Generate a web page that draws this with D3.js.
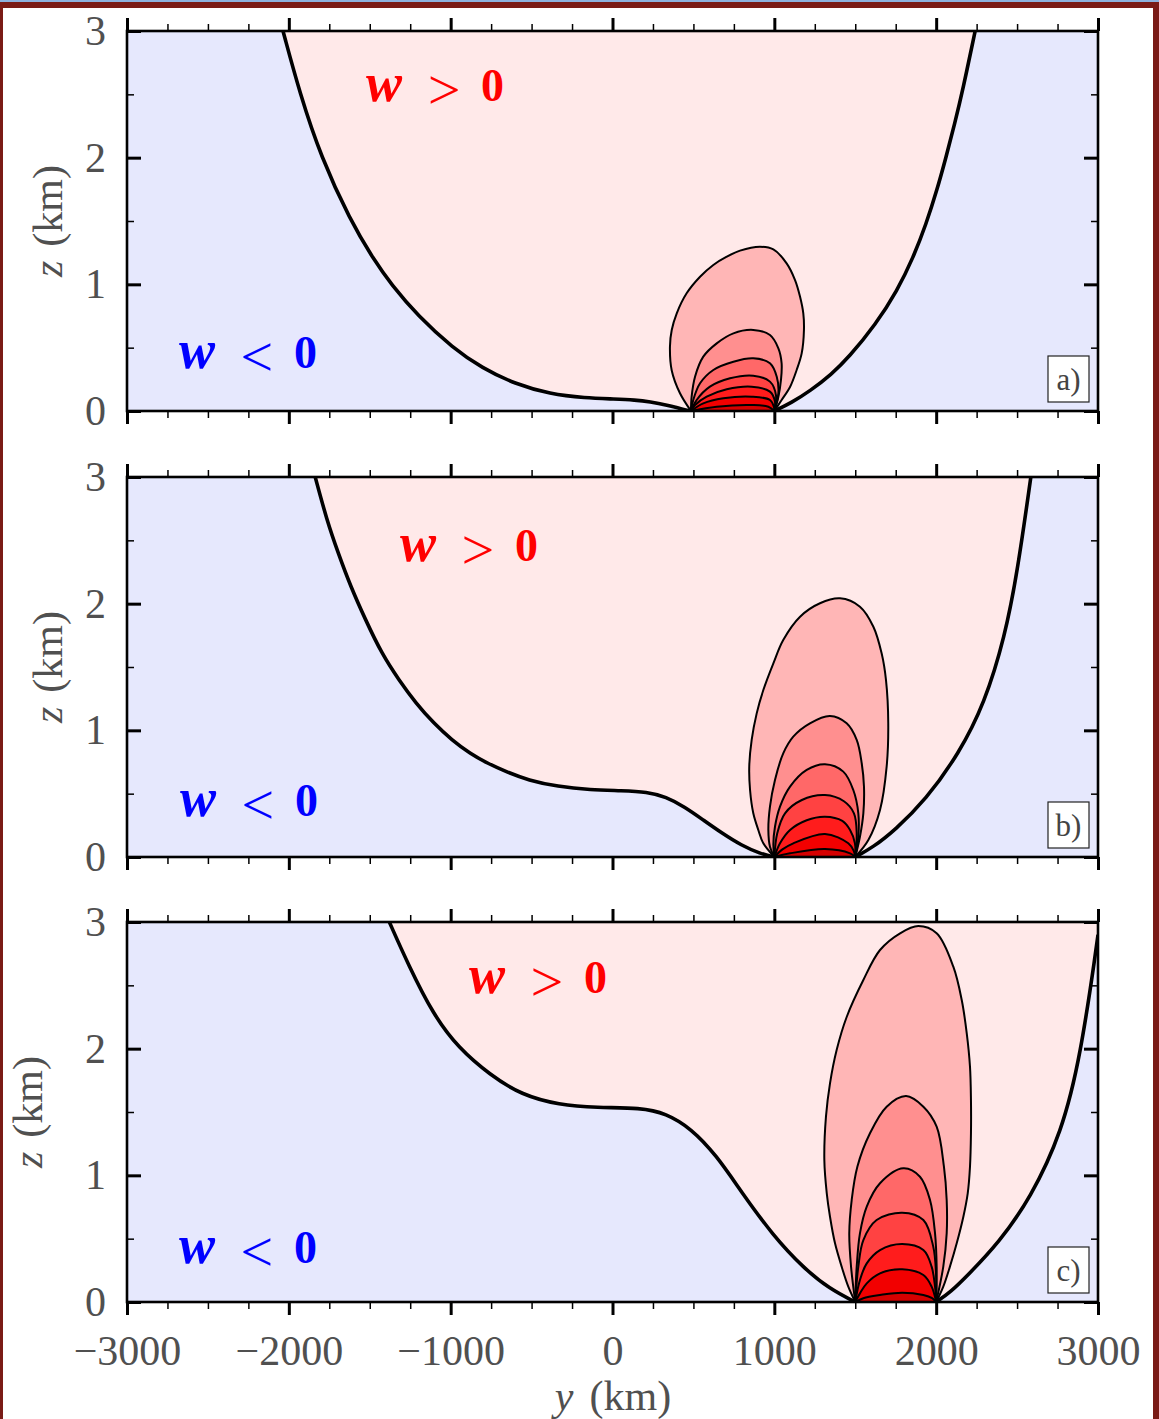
<!DOCTYPE html>
<html>
<head>
<meta charset="utf-8">
<script src="https://cdn.jsdelivr.net/npm/d3@7"></script>
<style>
  body { margin: 0; background: #fff; }
  svg { display: block; }
  text { font-family: "Liberation Serif", "Times New Roman", serif; }
</style>
</head>
<body>
<svg id="fig" width="1159" height="1419"></svg>
<script>
// ---- axis ticks ----
const yMajorTicks = [-3000, -2000, -1000, 0, 1000, 2000, 3000];
const yMinorTicks = d3.range(-3000, 3001, 250).filter(v => v % 1000 !== 0);
const zMajorTicks = [0, 1, 2, 3];
const zMinorTicks = [0.5, 1.5, 2.5];
const panelLabels = ["a)", "b)", "c)"];

// ---- w = 0 contour, [y km, z km]: left branch (top -> ground), right branch (ground -> top) ----
const zeroLeftA = [[-2036,3],[-1931,2.503],[-1801,2.005],[-1622,1.508],[-1474,1.192],[-1369,1.003],[-1202,0.75],[-986,0.497],[-806,0.339],[-602,0.213],[-386,0.134],[-170,0.103],[15,0.095],[139,0.087],[232,0.073],[337,0.047],[436,0.013],[485,0]];
const zeroRightA = [[1000,0],[1106,0.066],[1221,0.158],[1353,0.29],[1459,0.422],[1627,0.685],[1759,0.949],[1859,1.213],[1938,1.476],[2004,1.74],[2061,2.004],[2114,2.267],[2164,2.531],[2241,3]];
const zeroLeftB = [[-1837,3],[-1766,2.663],[-1695,2.399],[-1618,2.136],[-1526,1.872],[-1427,1.608],[-1320,1.397],[-1214,1.213],[-1104,1.055],[-992,0.923],[-880,0.817],[-770,0.738],[-655,0.672],[-520,0.606],[-340,0.556],[-136,0.53],[58,0.524],[214,0.514],[330,0.475],[447,0.395],[563,0.29],[680,0.185],[796,0.092],[913,0.026],[1000,0]];
const zeroRightB = [[1500,0],[1612,0.079],[1744,0.211],[1934,0.448],[2141,0.817],[2299,1.213],[2425,1.74],[2504,2.267],[2585,3]];
const zeroLeftC = [[-1379,3],[-1262,2.663],[-1107,2.267],[-951,2.004],[-757,1.793],[-563,1.635],[-330,1.556],[-97,1.534],[175,1.534],[330,1.49],[485,1.371],[641,1.16],[796,0.87],[990,0.527],[1184,0.264],[1340,0.105],[1500,0]];
const zeroRightC = [[2000,0],[2090,0.08],[2194,0.21],[2388,0.47],[2583,0.82],[2777,1.34],[2893,1.95],[2990,2.8],[3000,2.9]];

// ---- positive w contours around the forcing, outermost first ----
const lobesA = [
  [[485,0],[417,0.14],[366,0.32],[355,0.508],[366,0.639],[397,0.771],[458,0.929],[541,1.06],[623,1.153],[706,1.218],[788,1.266],[911,1.297],[994,1.276],[1076,1.166],[1128,1.034],[1159,0.902],[1179,0.771],[1183,0.64],[1169,0.455],[1138,0.324],[1097,0.19],[1045,0.087],[1000,0]],
  [[485,0],[489,0.113],[510,0.271],[561,0.429],[644,0.534],[747,0.613],[870,0.64],[973,0.6],[1025,0.495],[1045,0.377],[1041,0.245],[1025,0.113],[1000,0]],
  [[485,0],[499,0.087],[541,0.219],[623,0.324],[747,0.389],[870,0.416],[973,0.377],[1015,0.271],[1025,0.14],[1000,0]],
  [[485,0],[520,0.087],[602,0.192],[726,0.258],[870,0.279],[973,0.232],[1010,0.126],[1000,0]],
  [[485,0],[510,0.047],[582,0.113],[706,0.171],[860,0.192],[973,0.153],[1004,0.074],[1000,0]],
  [[485,0],[561,0.06],[685,0.1],[860,0.113],[973,0.087],[998,0.03],[1000,0]],
  [[485,0],[644,0.034],[860,0.047],[963,0.034],[1000,0]]
];
const lobesB = [
  [[1000,0],[932,0.108],[901,0.213],[870,0.345],[850,0.529],[845,0.713],[860,0.924],[891,1.134],[932,1.318],[994,1.529],[1055,1.713],[1159,1.897],[1282,2.003],[1406,2.042],[1529,1.976],[1612,1.818],[1663,1.608],[1690,1.397],[1704,1.055],[1694,0.713],[1653,0.371],[1581,0.134],[1500,0]],
  [[1000,0],[973,0.081],[963,0.213],[973,0.397],[1004,0.608],[1055,0.818],[1117,0.95],[1220,1.055],[1344,1.113],[1447,1.055],[1509,0.924],[1540,0.74],[1554,0.555],[1550,0.345],[1529,0.16],[1500,0]],
  [[1000,0],[994,0.1],[1004,0.239],[1035,0.397],[1097,0.555],[1200,0.687],[1313,0.732],[1426,0.674],[1488,0.529],[1519,0.345],[1519,0.16],[1500,0]],
  [[1000,0],[1018,0.187],[1066,0.345],[1170,0.45],[1313,0.489],[1430,0.44],[1492,0.345],[1509,0.187],[1500,0]],
  [[1000,0],[1035,0.108],[1097,0.213],[1200,0.29],[1313,0.318],[1420,0.285],[1468,0.213],[1498,0.108],[1500,0]],
  [[1000,0],[1050,0.06],[1117,0.108],[1313,0.182],[1457,0.108],[1490,0.05],[1500,0]],
  [[1000,0],[1097,0.029],[1313,0.063],[1468,0.029],[1500,0]]
];
const lobesC = [
  [[1500,0],[1457,0.121],[1416,0.279],[1375,0.463],[1344,0.673],[1324,0.858],[1309,1.121],[1319,1.463],[1344,1.726],[1385,1.989],[1447,2.25],[1550,2.542],[1653,2.779],[1777,2.911],[1890,2.968],[2003,2.911],[2106,2.647],[2158,2.384],[2189,2.121],[2209,1.858],[2215,1.595],[2215,1.332],[2209,1.068],[2195,0.858],[2168,0.673],[2127,0.463],[2085,0.279],[2044,0.121],[2000,0]],
  [[1500,0],[1474,0.279],[1463,0.542],[1478,0.805],[1513,1.068],[1591,1.332],[1694,1.542],[1814,1.626],[1921,1.542],[2003,1.384],[2048,1.068],[2065,0.805],[2065,0.542],[2044,0.279],[2000,0]],
  [[1500,0],[1509,0.279],[1529,0.542],[1571,0.753],[1653,0.937],[1797,1.055],[1900,0.989],[1962,0.805],[1993,0.542],[2003,0.279],[2000,0]],
  [[1500,0],[1505,0.095],[1519,0.279],[1550,0.489],[1632,0.647],[1790,0.705],[1921,0.647],[1982,0.437],[1999,0.226],[2000,0]],
  [[1500,0],[1529,0.174],[1571,0.305],[1653,0.41],[1790,0.458],[1921,0.41],[1972,0.279],[1993,0.121],[2000,0]],
  [[1500,0],[1529,0.068],[1571,0.147],[1653,0.226],[1790,0.258],[1921,0.213],[1972,0.121],[2000,0]],
  [[1500,0],[1550,0.03],[1653,0.055],[1790,0.074],[1921,0.055],[1975,0.03],[2000,0]]
];

// shading of the positive contour bands, outermost first
const lobeColors = ["#ffb6b6", "#ff8f8f", "#ff6868", "#ff4242", "#ff1c1c", "#f20000", "#d60000"];
const colUp = "#ffe9e9", colDown = "#e6e8fd";

// ---- layout ----
const svg = d3.select("#fig");
const left = 127, right = 1098, panelH = 380;
const panelTops = [31, 477, 922];
const zTitleX = [62, 62, 42];
const upLabelAt = [[-1517, 2.45], [-1307, 2.34], [-881, 2.44]];
const downLabelAt = [[-2673, 0.34], [-2667, 0.32], [-2673, 0.31]];

const panels = [
  { zl: zeroLeftA, zr: zeroRightA, lobes: lobesA },
  { zl: zeroLeftB, zr: zeroRightB, lobes: lobesB },
  { zl: zeroLeftC, zr: zeroRightC, lobes: lobesC }
];

// frame around the page
svg.append("rect").attr("width", 1159).attr("height", 1419).attr("fill", "#fff");
svg.append("rect").attr("x", 0).attr("y", 0).attr("width", 1159).attr("height", 2).attr("fill", "#8db2de");
svg.append("rect").attr("x", 0).attr("y", 2).attr("width", 1159).attr("height", 6).attr("fill", "#7a1b16");
svg.append("rect").attr("x", 0).attr("y", 2).attr("width", 3).attr("height", 1417).attr("fill", "#7a1b16");
svg.append("rect").attr("x", 1153).attr("y", 2).attr("width", 6).attr("height", 1417).attr("fill", "#7a1b16");

const x = d3.scaleLinear().domain([-3000, 3000]).range([left, right]);
const numFmt = d3.format("d");

panels.forEach((p, i) => {
  const top = panelTops[i];
  const z = d3.scaleLinear().domain([0, 3]).range([top + panelH, top]);
  const g = svg.append("g");

  const clipId = "plot-clip-" + i;
  svg.append("clipPath").attr("id", clipId)
    .append("rect").attr("x", left).attr("y", top).attr("width", right - left).attr("height", panelH);
  const plot = g.append("g").attr("clip-path", `url(#${clipId})`);

  // the zero line is drawn as a smoothing spline, closed contours through their points
  const zeroLine = d3.line().x(d => x(d[0])).y(d => z(d[1])).curve(d3.curveBasis);
  const loop = d3.line().x(d => x(d[0])).y(d => z(d[1])).curve(d3.curveCatmullRom.alpha(0.5));

  // upward motion everywhere, then the downward regions on both flanks
  plot.append("rect").attr("x", left).attr("y", top).attr("width", right - left).attr("height", panelH).attr("fill", colUp);
  plot.append("path")
    .attr("d", zeroLine(p.zl) + `L${x(-3000)},${z(0)}L${x(-3000)},${z(3)}Z`)
    .attr("fill", colDown);
  plot.append("path")
    .attr("d", zeroLine(p.zr) + `L${x(3000)},${z(3)}L${x(3000)},${z(0)}Z`)
    .attr("fill", colDown);

  // filled positive bands
  plot.selectAll("path.band").data(p.lobes).join("path")
    .attr("class", "band")
    .attr("d", d => loop(d) + "Z")
    .attr("fill", (d, k) => lobeColors[k]);
  plot.selectAll("path.contour").data(p.lobes).join("path")
    .attr("class", "contour")
    .attr("d", d => loop(d))
    .attr("fill", "none").attr("stroke", "#000").attr("stroke-width", 2);

  // w = 0 line
  [p.zl, p.zr].forEach(branch => {
    plot.append("path").attr("d", zeroLine(branch))
      .attr("fill", "none").attr("stroke", "#000").attr("stroke-width", 3.6)
      .attr("stroke-linejoin", "round");
  });

  // sign labels
  const signLabel = (pos, rel, color) => {
    const ax = x(pos[0]), ay = z(pos[1]);
    const t = g.append("g").attr("fill", color);
    t.append("text").attr("x", ax - 1).attr("y", ay)
      .attr("font-size", 54).attr("font-weight", "bold").attr("font-style", "italic").text("w");
    t.append("text").attr("x", ax + 77).attr("y", ay + 8).attr("text-anchor", "middle")
      .attr("font-family", "DejaVu Sans").attr("font-size", 58).text(rel);
    t.append("text").attr("x", ax + 114).attr("y", ay)
      .attr("font-size", 46).attr("font-weight", "bold").text("0");
  };
  signLabel(upLabelAt[i], ">", "#ff0000");
  signLabel(downLabelAt[i], "<", "#0000ff");

  // panel letter in a box
  const bx = right - 9 - 41, by = top + panelH - 9 - 46;
  g.append("rect").attr("x", bx).attr("y", by).attr("width", 41).attr("height", 46)
    .attr("fill", "#fff").attr("stroke", "#222").attr("stroke-width", 1.2);
  g.append("text").attr("x", bx + 20.5).attr("y", by + 34).attr("text-anchor", "middle")
    .attr("font-size", 31).attr("fill", "#444").text(panelLabels[i]);

  // frame
  g.append("rect").attr("x", left).attr("y", top).attr("width", right - left).attr("height", panelH)
    .attr("fill", "none").attr("stroke", "#000").attr("stroke-width", 2.6);

  // axes
  const styleAxis = (sel, w) => {
    sel.select(".domain").remove();
    sel.selectAll(".tick line").attr("stroke", "#000").attr("stroke-width", w);
    sel.selectAll(".tick text").attr("fill", "#505050").attr("font-size", 42)
      .attr("font-family", "'Liberation Serif', serif");
  };
  const isLast = i === panels.length - 1;

  g.append("g").attr("transform", `translate(0,${top + panelH})`)
    .call(d3.axisBottom(x).tickValues(yMajorTicks).tickSize(13).tickPadding(20)
      .tickFormat(isLast ? numFmt : () => ""))
    .call(s => styleAxis(s, 3));
  g.append("g").attr("transform", `translate(0,${top + panelH})`)
    .call(d3.axisBottom(x).tickValues(yMinorTicks).tickSize(7).tickFormat(() => ""))
    .call(s => styleAxis(s, 1.5));
  g.append("g").attr("transform", `translate(0,${top})`)
    .call(d3.axisTop(x).tickValues(yMajorTicks).tickSize(13).tickFormat(() => ""))
    .call(s => styleAxis(s, 3));
  g.append("g").attr("transform", `translate(0,${top})`)
    .call(d3.axisTop(x).tickValues(yMinorTicks).tickSize(7).tickFormat(() => ""))
    .call(s => styleAxis(s, 1.5));

  g.append("g").attr("transform", `translate(${left},0)`)
    .call(d3.axisLeft(z).tickValues(zMajorTicks).tickSize(-14).tickPadding(21).tickFormat(numFmt))
    .call(s => styleAxis(s, 3));
  g.append("g").attr("transform", `translate(${left},0)`)
    .call(d3.axisLeft(z).tickValues(zMinorTicks).tickSize(-7).tickFormat(() => ""))
    .call(s => styleAxis(s, 1.5));
  g.append("g").attr("transform", `translate(${right},0)`)
    .call(d3.axisRight(z).tickValues(zMajorTicks).tickSize(-14).tickFormat(() => ""))
    .call(s => styleAxis(s, 3));
  g.append("g").attr("transform", `translate(${right},0)`)
    .call(d3.axisRight(z).tickValues(zMinorTicks).tickSize(-7).tickFormat(() => ""))
    .call(s => styleAxis(s, 1.5));

  // vertical axis title
  const zt = g.append("text")
    .attr("transform", `translate(${zTitleX[i]},${top + panelH / 2}) rotate(-90)`)
    .attr("text-anchor", "middle").attr("font-size", 42).attr("fill", "#505050");
  zt.append("tspan").attr("font-style", "italic").text("z");
  zt.append("tspan").attr("dx", 14).text("(km)");
});

// horizontal axis title
const xt = svg.append("text").attr("x", 613).attr("y", 1410)
  .attr("text-anchor", "middle").attr("font-size", 42).attr("fill", "#505050");
xt.append("tspan").attr("font-style", "italic").text("y");
xt.append("tspan").attr("dx", 16).text("(km)");
</script>
</body>
</html>
